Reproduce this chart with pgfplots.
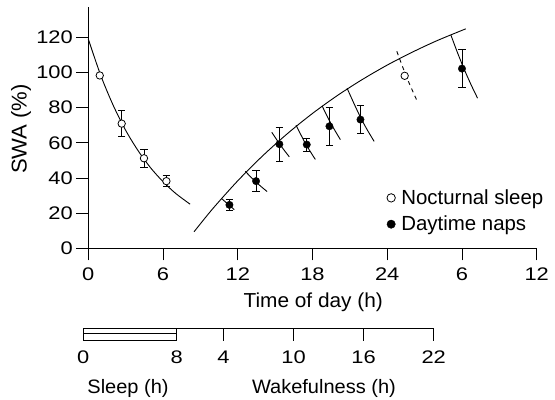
\documentclass[border=0pt]{standalone}
\usepackage{fontspec}
\setmainfont{Liberation Sans}[FakeStretch=1.03]
\newfontfamily\tickfont{Liberation Sans}[FakeStretch=1.2]
\newfontfamily\legfont{Liberation Sans}
\usepackage{pgfplots}
\pgfplotsset{compat=1.18}

\newcommand{\lbl}{\fontsize{19.5}{22}\selectfont}
\newcommand{\tck}{\tickfont\fontsize{18.3}{22}\selectfont}
\newcommand{\leg}{\legfont\fontsize{20.5}{24}\selectfont}

\begin{document}
\begin{tikzpicture}
\useasboundingbox (0bp,0bp) rectangle (555bp,-400bp);
\begin{axis}[
 at={(88.3bp,-248.3bp)},anchor=south west,
 scale only axis,width=448.4bp,height=241.6bp,
 xmin=0,xmax=36,ymin=0,ymax=137.4,
 axis lines=left,axis line style={-,line width=0.8bp},
 tick align=outside,major tick length=12bp,tick style={black,line width=0.8bp},
 xtick={0,6,...,36},xticklabels={0,6,12,18,24,6,12},
 ytick={0,20,...,120},
 /pgf/number format/assume math mode=true,
 tick label style={font=\tck},
 xticklabel style={yshift=-4.3bp},
 xlabel={Time of day (h)},ylabel={SWA (\%)},
 xlabel style={at={(axis description cs:0.5016,-0.2453)},anchor=base,font=\fontsize{20.3}{24}\selectfont},
 ylabel style={at={(axis description cs:-0.1374,0.4938)},anchor=base,font=\fontsize{21.5}{24}\selectfont},
 clip=false,
 legend style={draw=none,fill=none,at={(axis description cs:0.6656,0.1543)},anchor=west,
  inner sep=0pt,row sep=10bp,column sep=6bp,font=\leg,nodes={inner sep=0pt}},
 legend cell align=left,
 legend image code/.code={\draw[#1] plot coordinates {(0bp,0bp)};},
]
\addlegendimage{only marks,mark=*,mark size=4.2bp,mark options={fill=white,draw=black,line width=0.8bp}}
\addlegendentry{\leg Nocturnal sleep}
\addlegendimage{only marks,mark=*,mark size=4.2bp,mark options={fill=black,draw=black}}
\addlegendentry{\leg Daytime naps}

% process S: decay during the night, rise during wakefulness
\addplot[black,line width=0.9bp,smooth,forget plot] coordinates {
 (0,119) (1,98.3) (2,81.3) (3,67.1) (4,55.5) (5,45.8) (6,37.9) (7,31.3) (8.17,25.1)};
\addplot[black,line width=0.9bp,smooth,forget plot] coordinates {
 (8.49,9.4) (10,22.6) (12,38.4) (14,52.6) (16,65.3) (18,76.7) (20,86.9)
 (22,96.0) (24,104.2) (26,111.5) (28,118.1) (30.3,124.8)};

% decay during each nap
\addplot[black,line width=0.9bp,smooth,forget plot] coordinates {(10.7,28.3) (11.2,25.2) (11.72,22.0)};
\addplot[black,line width=0.9bp,smooth,forget plot] coordinates {(12.6,43.8) (13.47,37.6) (14.35,32.3)};
\addplot[black,line width=0.9bp,smooth,forget plot] coordinates {(14.73,66) (15.43,58.6) (16.14,52)};
\addplot[black,line width=0.9bp,smooth,forget plot] coordinates {(16.68,70) (17.45,59.4) (18.23,50.5)};
\addplot[black,line width=0.9bp,smooth,forget plot] coordinates {(18.77,81) (19.5,70.7) (20.24,61.8)};
\addplot[black,line width=0.9bp,smooth,forget plot] coordinates {(20.78,91) (21.3,82.8) (21.86,74.4) (22.4,67.3) (22.95,60.8)};
\addplot[black,line width=0.9bp,smooth,dash pattern=on 4bp off 4bp,forget plot] coordinates {(24.77,112) (25.57,97.1) (26.38,84.1)};
\addplot[black,line width=0.9bp,smooth,forget plot] coordinates {(29.11,121.3) (29.65,111.1) (30.18,101.8) (30.72,93.2) (31.25,85.4)};

% error bars
\addplot[draw=none,mark=none,forget plot,error bars/.cd,y dir=both,y explicit,
 error bar style={black,line width=0.9bp},
 error mark options={rotate=90,black,mark size=3.7bp,line width=0.9bp}]
 table[x=x,y=y,y error=e,row sep=\\]{
 x y e\\
 2.68 70.9 7.5\\
 4.47 51.2 5\\
 6.27 38.2 3\\
 11.33 24.7 2.9\\
 13.47 38.2 6\\
 15.34 59.2 9.7\\
 17.54 59.0 3.7\\
 19.36 69.4 10.8\\
 21.85 73.2 7.8\\
 30.0 102.2 10.8\\
 };

% nocturnal sleep
\addplot[only marks,mark=*,mark size=3.7bp,mark options={fill=white,draw=black,line width=0.8bp},forget plot]
 table[x=x,y=y,row sep=\\]{
 x y\\
 0.92 98.3\\
 2.68 70.9\\
 4.47 51.2\\
 6.27 38.2\\
 25.4 98.1\\
 };
% daytime naps
\addplot[only marks,mark=*,mark size=3.7bp,mark options={fill=black,draw=black},forget plot]
 table[x=x,y=y,row sep=\\]{
 x y\\
 11.33 24.7\\
 13.47 38.2\\
 15.34 59.2\\
 17.54 59.0\\
 19.36 69.4\\
 21.85 73.2\\
 30.0 102.2\\
 };
\end{axis}

% time scale: sleep and wakefulness
\begin{axis}[
 at={(83.3bp,-328.3bp)},anchor=south west,
 scale only axis,width=350.4bp,height=12.4bp,
 xmin=0,xmax=30,ymin=0,ymax=1,
 axis x line=bottom,hide y axis,axis line style={-,line width=0.8bp},
 tick align=outside,major tick length=12.4bp,tick style={black,line width=0.8bp},
 xtick={0,8,12,18,24,30},xticklabels={0,8,4,10,16,22},
 tick label style={font=\tck},
 xticklabel style={yshift=-6.5bp},
 clip=false,
]
\addplot[black,line width=0.8bp] coordinates {(0,0) (0,-1) (8,-1) (8,0)};
\addplot[black,line width=0.8bp] coordinates {(0,-0.44) (8,-0.44)};
\node[anchor=base,font=\lbl] at (axis cs:3.83,-5.24) {Sleep (h)};
\node[anchor=base,font=\lbl] at (axis cs:20.6,-5.24) {Wakefulness (h)};
\end{axis}
\end{tikzpicture}
\end{document}
